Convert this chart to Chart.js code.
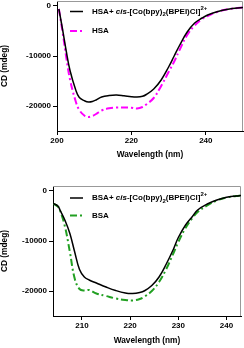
<!DOCTYPE html>
<html>
<head>
<meta charset="utf-8">
<script src="https://cdn.jsdelivr.net/npm/chart.js@4.4.0/dist/chart.umd.min.js"></script>
<style>
html, body { margin: 0; padding: 0; background: #fff; }
.box { position: relative; width: 244px; height: 174px; }
</style>
</head>
<body>
<div class="box"><canvas id="hsa"></canvas></div>
<div class="box"><canvas id="bsa"></canvas></div>
<script>
// top panel - HSA
var hsaWl = [200.5, 201.5, 202.5, 203.5, 205, 206, 207.5, 208.5, 209.5, 210.5, 212, 214, 216, 218, 220,
    221.5, 223, 224, 226, 228, 230, 231.5, 233, 235, 237, 239, 240.5, 243, 246, 250];
var hsaComplex = [-600, -4700, -9100, -12900, -16700, -18300, -19000, -19200, -19100, -18800, -18200, -17900, -17800, -17950, -18150,
    -18200, -18050, -17700, -16600, -14800, -12200, -10000, -7800, -5200, -3400, -2400, -1800, -1150, -650, -300];
var hsaFree = [-600, -5200, -10300, -14700, -19000, -20800, -22000, -22200, -22000, -21600, -20900, -20450, -20300, -20300, -20350,
    -20500, -20200, -19700, -18400, -16000, -13200, -11100, -8700, -5800, -3900, -2600, -2000, -1200, -650, -300];
var hsaXTicks = [200, 220, 240];

// bottom panel - BSA
var bsaWl = [204, 205, 205.5, 206.5, 207.5, 208.5, 209.5, 210.5, 211.5, 213, 215, 217, 219, 220.5, 222,
    223, 224.5, 226, 227.5, 229, 230, 231.5, 233, 234, 236, 238, 240, 242, 243];
var bsaComplex = [-2500, -3000, -3900, -5900, -8500, -12200, -15700, -17200, -17800, -18400, -19200, -19900, -20400, -20500, -20300,
    -19950, -18900, -17200, -14600, -11600, -9300, -6800, -5000, -3800, -2600, -1800, -1250, -1000, -900];
var bsaFree = [-2500, -3100, -4000, -7200, -12200, -17500, -19600, -19900, -19800, -20500, -21000, -21500, -21800, -21900, -21600,
    -21100, -20000, -18200, -15600, -12400, -10200, -7400, -5300, -4200, -2900, -1900, -1300, -1000, -900];
var bsaXTicks = [210, 220, 230, 240];

var yTicks = [-20000, -10000, 0];

var FONT = '"Liberation Sans", Arial, sans-serif';

function pts(xs, ys) {
    var out = [];
    for (let i = 0; i < xs.length; i++) out.push({ x: xs[i], y: ys[i] });
    return out;
}

// legend with italic / sub / superscript pieces
var legendPlugin = {
    id: 'cdLegend',
    afterDraw: function (chart, args, opts) {
        var ctx = chart.ctx;
        ctx.save();
        ctx.textBaseline = 'middle';
        ctx.fillStyle = '#000';
        for (let i = 0; i < opts.items.length; i++) {
            var it = opts.items[i];
            var y = opts.y[i];
            ctx.beginPath();
            ctx.strokeStyle = it.color;
            ctx.lineWidth = it.width;
            ctx.setLineDash(it.dash);
            ctx.moveTo(opts.x0, y);
            ctx.lineTo(opts.x1, y);
            ctx.stroke();
            ctx.setLineDash([]);
            var x = opts.tx;
            for (let j = 0; j < it.parts.length; j++) {
                var p = it.parts[j];
                var dy = 0;
                if (p.s == 'i') ctx.font = 'italic bold 8px ' + FONT;
                else if (p.s == 'sub') { ctx.font = 'bold 6px ' + FONT; dy = 3; }
                else if (p.s == 'sup') { ctx.font = 'bold 6px ' + FONT; dy = -3.5; }
                else ctx.font = 'bold 8px ' + FONT;
                ctx.fillText(p.t, x, y + dy);
                x += ctx.measureText(p.t).width;
            }
        }
        ctx.restore();
    }
};

// gray frame on top and right
var framePlugin = {
    id: 'frame',
    beforeDatasetsDraw: function (chart) {
        var a = chart.chartArea, ctx = chart.ctx;
        ctx.save();
        ctx.strokeStyle = '#999';
        ctx.lineWidth = 1;
        ctx.beginPath();
        ctx.moveTo(a.left, a.top + 0.5);
        ctx.lineTo(a.right - 0.5, a.top + 0.5);
        ctx.lineTo(a.right - 0.5, a.bottom);
        ctx.stroke();
        ctx.restore();
    }
};

function noPad(s) {
    s.paddingTop = 0; s.paddingBottom = 0; s.paddingLeft = 0; s.paddingRight = 0;
}

function makeChart(id, cfg) {
    var ctx = document.getElementById(id).getContext('2d');
    return new Chart(ctx, {
        type: 'line',
        data: {
            datasets: [{
                label: cfg.names[0],
                data: pts(cfg.wl, cfg.complex),
                borderColor: '#000',
                borderWidth: 1.5,
                pointRadius: 0,
                tension: 0.4,
                order: 1
            }, {
                label: cfg.names[1],
                data: pts(cfg.wl, cfg.free),
                borderColor: cfg.color,
                borderWidth: 2,
                borderDash: [7, 3, 2, 3],
                pointRadius: 0,
                tension: 0.4,
                order: 2
            }]
        },
        options: {
            responsive: true,
            maintainAspectRatio: false,
            animation: false,
            layout: { padding: { top: cfg.top, right: cfg.right, left: 0, bottom: 0 } },
            scales: {
                x: {
                    type: 'linear',
                    min: cfg.xmin,
                    max: cfg.xmax,
                    afterBuildTicks: function (s) { s.ticks = cfg.xTicks.map(function (v) { return { value: v }; }); },
                    afterFit: function (s) { s.height = cfg.xh; noPad(s); },
                    border: { color: '#000', width: 1 },
                    grid: { drawOnChartArea: false, drawTicks: true, tickLength: 4, color: '#000' },
                    ticks: { color: '#000', padding: 1, font: { family: FONT, size: 8, weight: 'bold' }, maxRotation: 0,
                        callback: function (v) { return String(v); } },
                    title: { display: true, text: 'Wavelength (nm)', color: '#000',
                        padding: { top: 0, bottom: cfg.titlePad }, font: { family: FONT, size: 8.3, weight: 'bold' } }
                },
                y: {
                    min: -25000,
                    max: 1000,
                    afterBuildTicks: function (s) { s.ticks = yTicks.map(function (v) { return { value: v }; }); },
                    afterFit: function (s) { s.width = cfg.yw; noPad(s); },
                    border: { color: '#000', width: 1 },
                    grid: { drawOnChartArea: false, drawTicks: true, tickLength: 4, color: '#000' },
                    ticks: { color: '#000', padding: 2, font: { family: FONT, size: 8, weight: 'bold' },
                        callback: function (v) { return String(v); } },
                    title: { display: true, text: 'CD (mdeg)', color: '#000',
                        padding: { top: 0, bottom: 0 }, font: { family: FONT, size: 8.3, weight: 'bold' } }
                }
            },
            plugins: {
                legend: { display: false },
                tooltip: { enabled: false },
                cdLegend: {
                    x0: 70, x1: 83, tx: 92, y: cfg.legY,
                    items: [
                        { color: '#000', width: 1.5, dash: [], parts: [
                            { t: cfg.names[1] + '+ ', s: 'n' }, { t: 'cis', s: 'i' }, { t: '-[Co(bpy)', s: 'n' },
                            { t: '2', s: 'sub' }, { t: '(BPEI)Cl]', s: 'n' }, { t: '2+', s: 'sup' }] },
                        { color: cfg.color, width: 2, dash: [7, 3, 2, 3], parts: [{ t: cfg.names[1], s: 'n' }] }
                    ]
                }
            }
        },
        plugins: [framePlugin, legendPlugin]
    });
}

makeChart('hsa', {
    wl: hsaWl, complex: hsaComplex, free: hsaFree, xTicks: hsaXTicks,
    names: ['HSA+ cis-[Co(bpy)2(BPEI)Cl]2+', 'HSA'], color: '#ff00ff',
    xmin: 200, xmax: 250, top: 1, right: 1, yw: 57, xh: 43, titlePad: 14, legY: [11.5, 31]
});

makeChart('bsa', {
    wl: bsaWl, complex: bsaComplex, free: bsaFree, xTicks: bsaXTicks,
    names: ['BSA+ cis-[Co(bpy)2(BPEI)Cl]2+', 'BSA'], color: '#22a022',
    xmin: 204, xmax: 243, top: 12, right: 3, yw: 53, xh: 32, titlePad: 2, legY: [24, 41.5]
});
</script>
</body>
</html>
